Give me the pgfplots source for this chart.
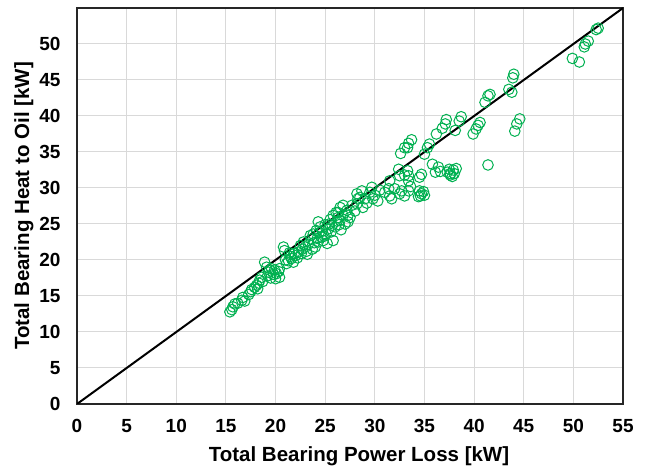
\documentclass[border=0pt]{standalone}
\usepackage{fontspec}
\setmainfont{Liberation Sans}
\usepackage{pgfplots}
\pgfplotsset{compat=1.18}
\usetikzlibrary{calc}
\definecolor{grn}{RGB}{0,176,80}
\definecolor{grd}{RGB}{217,217,217}
\pgfplotstableread{
x y
15.4 12.8
15.6 13.1
15.7 13.5
15.9 13.9
16.2 14.0
16.6 14.4
16.7 14.8
16.9 14.3
17.3 15.2
17.5 15.6
17.6 15.9
17.9 16.2
18.1 16.5
18.3 16.8
18.4 17.2
18.6 17.6
18.2 16.0
18.7 17.0
18.9 19.7
19.1 19.0
19.3 18.3
19.2 17.8
19.5 17.5
19.6 18.8
19.8 18.0
19.9 18.6
20.1 18.1
20.3 18.4
20.4 17.6
20.4 18.8
20.0 17.4
19.4 18.6
20.8 21.8
20.9 21.3
21.1 19.5
21.3 19.9
21.5 20.5
21.6 20.2
21.8 19.7
21.9 20.9
22.0 20.6
22.3 21.1
22.5 22.0
22.2 20.3
22.7 21.5
22.8 22.5
23.0 21.8
23.3 22.2
23.5 23.4
23.6 22.9
23.2 20.8
21.0 20.0
21.4 21.0
22.6 20.9
23.1 21.2
23.9 22.4
24.2 23.0
23.7 21.5
23.8 23.6
24.0 21.8
24.1 24.1
24.3 22.5
24.3 25.3
24.5 24.6
24.6 23.2
24.8 22.7
24.7 24.0
25.0 24.9
25.1 23.6
25.3 24.3
25.4 25.0
25.6 23.9
25.8 22.7
25.8 26.2
26.0 24.6
26.1 26.6
26.2 25.4
26.3 25.9
26.3 26.6
26.5 27.3
26.5 25.5
26.8 27.6
26.8 26.2
27.0 25.0
27.2 26.9
27.3 25.3
27.3 26.2
27.5 25.9
25.5 25.6
24.9 23.3
26.6 24.2
25.2 22.3
25.7 24.8
26.4 24.9
24.4 23.8
27.7 27.6
28.0 26.8
28.2 27.8
28.2 29.2
28.3 28.5
28.5 28.7
28.7 29.6
28.8 27.3
29.0 28.5
29.2 27.9
29.5 29.4
29.7 30.1
29.8 28.5
30.0 29.0
30.3 28.2
30.5 29.7
31.0 29.4
31.4 29.9
31.5 31.0
31.5 28.9
31.7 28.5
32.0 29.9
32.4 32.6
32.5 31.7
32.5 29.2
32.7 29.6
33.0 28.9
33.0 31.8
33.3 32.4
33.4 31.7
33.4 31.0
33.4 29.6
33.6 30.2
34.5 31.5
34.7 31.9
34.5 29.6
34.7 29.2
34.4 28.8
34.9 29.5
34.6 28.9
35.0 29.0
35.8 33.3
36.4 32.9
36.1 32.2
36.6 32.3
37.3 32.2
37.6 31.8
37.9 32.5
38.2 32.7
37.5 32.6
37.8 31.6
38.0 32.0
37.6 32.0
32.6 34.8
33.0 35.6
33.3 35.6
33.4 36.2
33.7 36.7
35.0 34.7
35.3 35.6
35.5 36.1
36.2 37.5
36.8 38.3
37.1 38.9
37.2 39.5
38.1 38.0
38.5 39.3
38.7 39.9
39.9 37.5
40.2 38.2
40.4 38.7
40.6 39.1
41.1 41.9
41.4 42.8
41.6 43.0
41.4 33.2
43.5 43.7
43.8 43.3
43.9 45.3
44.0 45.8
44.1 37.9
44.3 38.9
44.6 39.6
49.9 48.0
50.6 47.5
51.1 49.6
51.2 50.0
51.5 50.4
52.3 52.0
52.5 52.2
}\pts
\begin{document}
\fontsize{19}{23}\selectfont\bfseries
\begin{tikzpicture}
\begin{axis}[
  name=ax, scale only axis, width=546pt, height=396pt,
  xmin=0, xmax=55, ymin=0, ymax=55,
  xtick={0,5,...,55}, ytick={0,5,...,50},
  grid=major, major grid style={grd, line width=1pt},
  axis line style={black!85, line width=1.4pt},
  tick style={draw=none},
  /pgf/number format/assume math mode=true,
  ticklabel style={font=\fontsize{19}{23}\selectfont\bfseries},
  xticklabel style={yshift=-9pt},
  yticklabel style={xshift=-10pt},
  xlabel={Total Bearing Power Loss [kW]},
  ylabel={Total Bearing Heat to Oil [kW]},
  label style={font=\fontsize{20.5}{24}\selectfont\bfseries},
  xlabel style={at={(axis description cs:0.5165,-0.131)}, anchor=center},
  ylabel style={at={(axis description cs:-0.0971,0.5)}, anchor=center},
]
\addplot[only marks, mark=o, mark size=5.3pt, grn, mark options={line width=1pt}] table {\pts};
\addplot[black, line width=2pt] coordinates {(0,0) (55,55)};
\coordinate (sw) at (rel axis cs:0,0);
\coordinate (ne) at (rel axis cs:1,1);
\end{axis}
\pgfresetboundingbox
\path ($(sw)+(-77pt,-66pt)$) rectangle ($(ne)+(24pt,8pt)$);
\end{tikzpicture}
\end{document}
